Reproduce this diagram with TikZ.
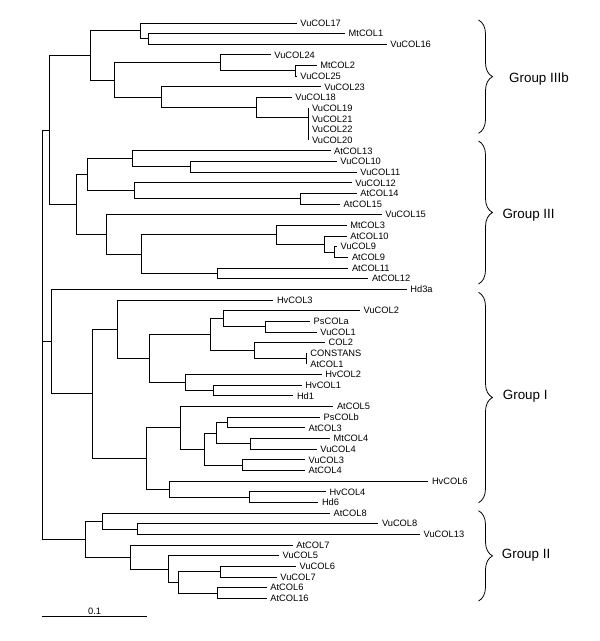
\documentclass[tikz,border=0pt]{standalone}
\usepackage{fontspec}
\setmainfont{Liberation Sans}
\usetikzlibrary{calc,decorations.pathreplacing}
% internal node of the tree: name, x, upper child, lower child
\newcommand{\clade}[4]{%
	\coordinate (tmp) at ($(#3)!.5!(#4)$);
	\coordinate (#1) at (#2,0 |- tmp);
	\draw[branch] (#1) |- (#3) (#1) |- (#4);}
\begin{document}
\begin{tikzpicture}[x=1pt,y=-1pt,
		branch/.style={line width=1pt},
		leaf/.style={anchor=west,inner xsep=3.5pt,inner ysep=0pt,font=\fontsize{9.3}{10}\selectfont},
		grp/.style={anchor=west,inner sep=0pt,font=\fontsize{13.4}{15}\selectfont},
		grpbrace/.style={decorate,decoration={brace,amplitude=14pt},line width=0.8pt}]
		\useasboundingbox (0,0) rectangle (600,641);
		% leaves, top to bottom
		\foreach \lab/\xend [count=\i from 0] in {VuCOL17/296.7,MtCOL1/345,VuCOL16/386.7,
			VuCOL24/270.7,MtCOL2/316.7,VuCOL25/296.7,VuCOL23/320.7,VuCOL18/291.7,
			VuCOL19/308.3,VuCOL21/308.3,VuCOL22/308.3,VuCOL20/308.3,
			AtCOL13/330.5,VuCOL10/336.7,VuCOL11/356.7,VuCOL12/351.7,AtCOL14/356.7,
			AtCOL15/340,VuCOL15/381.7,MtCOL3/346.7,AtCOL10/346.7,VuCOL9/337,
			AtCOL9/348.3,AtCOL11/348.3,AtCOL12/368.3,Hd3a/406.7,
			HvCOL3/273.3,VuCOL2/360,PsCOLa/310,VuCOL1/316.7,COL2/325,
			CONSTANS/306.7,AtCOL1/306.7,HvCOL2/321.7,HvCOL1/301.7,Hd1/293.3,
			AtCOL5/333.3,PsCOLb/320,AtCOL3/305,MtCOL4/330,VuCOL4/316.7,
			VuCOL3/305,AtCOL4/305,HvCOL6/428.3,HvCOL4/326,Hd6/318.3,
			AtCOL8/330,VuCOL8/378.3,VuCOL13/420,AtCOL7/292.7,VuCOL5/279,
			VuCOL6/296,VuCOL7/276.7,AtCOL6/266.7,AtCOL16/266.7}
			\node[leaf] (\lab) at (\xend,23+10.655*\i) {\lab};
		% group IIIb
		\clade{b1}{148}{MtCOL1}{VuCOL16}
		\clade{b2}{140}{VuCOL17}{b1}
		\clade{b3}{295}{MtCOL2}{VuCOL25}
		\clade{b4}{220}{VuCOL24}{b3}
		\clade{b5}{308.3}{VuCOL22}{VuCOL20}
		\clade{b6}{308.3}{VuCOL21}{b5}
		\clade{b7}{308.3}{VuCOL19}{b6}
		\clade{b8}{256.7}{VuCOL18}{b7}
		\clade{b9}{161}{VuCOL23}{b8}
		\clade{b10}{114.3}{b4}{b9}
		\clade{b11}{90}{b2}{b10}
		% group III
		\clade{c1}{190}{VuCOL10}{VuCOL11}
		\clade{c2}{132}{AtCOL13}{c1}
		\clade{c3}{300.7}{AtCOL14}{AtCOL15}
		\clade{c4}{134.3}{VuCOL12}{c3}
		\clade{c5}{87.7}{c2}{c4}
		\clade{c6}{334.3}{VuCOL9}{AtCOL9}
		\clade{c7}{324.3}{AtCOL10}{c6}
		\clade{c8}{276}{MtCOL3}{c7}
		\clade{c9}{217.3}{AtCOL11}{AtCOL12}
		\clade{c10}{141}{c8}{c9}
		\clade{c11}{106.7}{VuCOL15}{c10}
		\clade{c12}{76.7}{c5}{c11}
		\clade{up}{49.3}{b11}{c12}
		% group I
		\clade{a1}{265.7}{PsCOLa}{VuCOL1}
		\clade{a2}{223.3}{VuCOL2}{a1}
		\clade{a3}{306.7}{CONSTANS}{AtCOL1}
		\clade{a4}{254}{COL2}{a3}
		\clade{a5}{210}{a2}{a4}
		\clade{a6}{213.3}{HvCOL1}{Hd1}
		\clade{a7}{185.7}{HvCOL2}{a6}
		\clade{a8}{149}{a5}{a7}
		\clade{a9}{117.7}{HvCOL3}{a8}
		\clade{a10}{227.7}{PsCOLb}{AtCOL3}
		\clade{a11}{250}{MtCOL4}{VuCOL4}
		\clade{a12}{216}{a10}{a11}
		\clade{a13}{242.7}{VuCOL3}{AtCOL4}
		\clade{a14}{204.7}{a12}{a13}
		\clade{a15}{180}{AtCOL5}{a14}
		\clade{a16}{249.3}{HvCOL4}{Hd6}
		\clade{a17}{169.7}{HvCOL6}{a16}
		\clade{a18}{146.7}{a15}{a17}
		\clade{a19}{92}{a9}{a18}
		\clade{mid}{51}{Hd3a}{a19}
		% group II
		\clade{d1}{137.3}{VuCOL8}{VuCOL13}
		\clade{d2}{102.7}{AtCOL8}{d1}
		\clade{d3}{220.7}{VuCOL6}{VuCOL7}
		\clade{d4}{217.7}{AtCOL6}{AtCOL16}
		\clade{d5}{178.7}{d3}{d4}
		\clade{d6}{168.7}{VuCOL5}{d5}
		\clade{d7}{130.3}{AtCOL7}{d6}
		\clade{d8}{85.3}{d2}{d7}
		% root
		\coordinate (root) at (42,0 |- mid);
		\draw[branch] (root) |- (up) (root) |- (mid) (root) |- (d8);
		% scale bar
		\coordinate (sbl) at (42,616.7); \coordinate (sbr) at (147.3,616.7);
		\draw[branch] (sbl) -- (sbr);
		\node[leaf,anchor=south,inner xsep=0pt] (sblab) at (94.6,614.6) {0.1};
		% groups
		\draw[grpbrace] (478.5,20) -- (478.5,133.3);
		\draw[grpbrace] (478.5,141) -- (478.5,284);
		\draw[grpbrace] (478.5,292.3) -- (478.5,502.7);
		\draw[grpbrace] (478.5,510.7) -- (478.5,601);
		\node[grp] (g3b) at (509,79) {Group IIIb};
		\node[grp] (g3) at (502.3,215) {Group III};
		\node[grp] (g1) at (502.7,396.5) {Group I};
		\node[grp] (g2) at (501.7,555.5) {Group II};
	\end{tikzpicture}
\end{document}
